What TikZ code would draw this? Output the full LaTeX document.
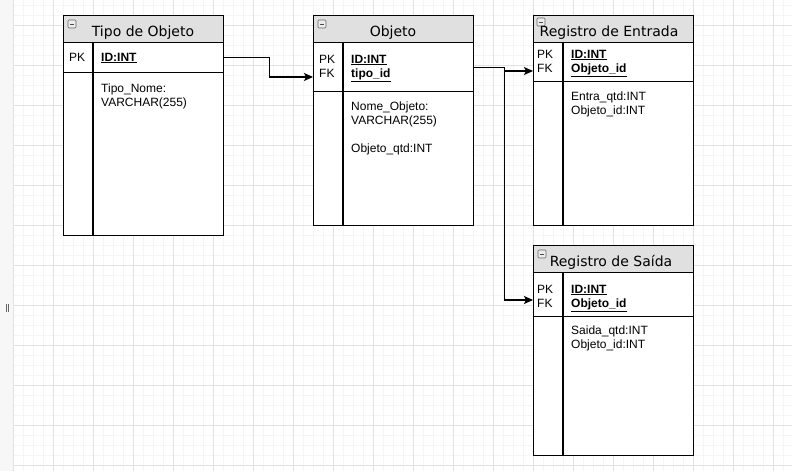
\documentclass[tikz,border=0pt]{standalone}
\usepackage{fontspec}
\setmainfont{Liberation Sans}
\newfontfamily\hdrfont{DejaVu Sans}
\usetikzlibrary{arrows.meta}
\definecolor{hdrgray}{HTML}{E0E0E0}
\definecolor{majorgrid}{HTML}{E2E2E2}
\definecolor{minorgrid}{HTML}{F5F5F5}
\definecolor{stripgray}{HTML}{F7F7F7}
\tikzset{
  box/.style={draw=black, line width=1.1pt, fill=white, minimum width=160pt, inner sep=0pt, anchor=north west},
  hdr/.style={box, fill=hdrgray, minimum height=27pt},
  title/.style={anchor=base, inner sep=0pt, font=\hdrfont\fontsize{14}{16}\selectfont},
  txt/.style={anchor=base west, inner sep=0pt, font=\fontsize{12}{14}\selectfont},
  keytxt/.style={txt, font=\fontsize{12}{14}\selectfont\bfseries},
  divider/.style={line width=1.1pt},
  minusicon/.style={draw=gray!80!black, fill=gray!15, rounded corners=1pt, line width=0.6pt, minimum size=8pt, inner sep=0pt,
    path picture={\draw[line width=0.8pt, black!70] ([xshift=-2pt]path picture bounding box.center) -- ([xshift=2pt]path picture bounding box.center);}},
  conn/.style={line width=1.1pt, -{Stealth[length=9pt,width=8pt,inset=2pt]}},
  minorline/.style={minorgrid, line width=0.6pt},
  majorline/.style={majorgrid, line width=0.8pt}
}
\begin{document}
\begin{tikzpicture}[x=1pt,y=-1pt]
\useasboundingbox (0,0) rectangle (792,471);
% background grid
\fill[white] (0,0) rectangle (792,471);
\foreach \x in {13,23,...,792} \draw[minorline] (\x,0) -- (\x,471);
\foreach \y in {5,15,...,471} \draw[minorline] (13,\y) -- (792,\y);
\foreach \x in {13,53,...,792} \draw[majorline] (\x,0) -- (\x,471);
\foreach \y in {25,65,...,471} \draw[majorline] (13,\y) -- (792,\y);
% left strip
\fill[stripgray] (0,0) rectangle (12.5,471);
\draw[majorline] (13,0) -- (13,471);
\draw[gray!80!black, line width=0.8pt] (6,304) -- (6,312);
\draw[gray!80!black, line width=0.8pt] (8.8,304) -- (8.8,312);

% ---- Table 1: Tipo de Objeto
\node[hdr] (t1h) at (63,15) {};
\node[box, minimum height=30pt] (t1k) at (63,42) {};
\node[box, minimum height=163pt] (t1b) at (63,72) {};
\draw[divider] ([xshift=30pt]t1k.north west) -- ([xshift=30pt]t1b.south west);
\node[minusicon] (t1i) at (72,24) {};
\node[title] (t1t) at (143,36) {Tipo de Objeto};
\node[txt] (t1pk) at (69,61) {PK};
\node[keytxt] (t1id) at (101,61) {\underline{ID:INT}};
\node[txt] (t1f1) at (101,92) {Tipo\_Nome:};
\node[txt] (t1f2) at (101,106) {VARCHAR(255)};

% ---- Table 2: Objeto
\node[hdr] (t2h) at (313,15) {};
\node[box, minimum height=49pt] (t2k) at (313,42) {};
\node[box, minimum height=134pt] (t2b) at (313,91) {};
\draw[divider] ([xshift=30pt]t2k.north west) -- ([xshift=30pt]t2b.south west);
\node[minusicon] (t2i) at (322,24) {};
\node[title] (t2t) at (393,36) {Objeto};
\node[txt] (t2pk) at (319,63) {PK};
\node[txt] (t2fk) at (319,77) {FK};
\node[keytxt] (t2id) at (351,63) {\underline{ID:INT}};
\node[keytxt] (t2tid) at (351,77) {\underline{tipo\_id}};
\node[txt] (t2f1) at (351,110) {Nome\_Objeto:};
\node[txt] (t2f2) at (351,124) {VARCHAR(255)};
\node[txt] (t2f3) at (351,152) {Objeto\_qtd:INT};

% ---- Table 3: Registro de Entrada
\node[hdr] (t3h) at (533,15) {};
\node[box, minimum height=39pt] (t3k) at (533,42) {};
\node[box, minimum height=144pt] (t3b) at (533,81) {};
\draw[divider] ([xshift=30pt]t3k.north west) -- ([xshift=30pt]t3b.south west);
\node[minusicon] (t3i) at (541,22) {};
\node[title] (t3t) at (609,36) {Registro de Entrada};
\node[txt] (t3pk) at (537,58) {PK};
\node[txt] (t3fk) at (537,72) {FK};
\node[keytxt] (t3id) at (571,58) {\underline{ID:INT}};
\node[keytxt] (t3oid) at (571,72) {\underline{Objeto\_id}};
\node[txt] (t3f1) at (571,100) {Entra\_qtd:INT};
\node[txt] (t3f2) at (571,114) {Objeto\_id:INT};

% ---- Table 4: Registro de Saida
\node[hdr] (t4h) at (533,245) {};
\node[box, minimum height=44pt] (t4k) at (533,272) {};
\node[box, minimum height=139pt] (t4b) at (533,316) {};
\draw[divider] ([xshift=30pt]t4k.north west) -- ([xshift=30pt]t4b.south west);
\node[minusicon] (t4i) at (542,254) {};
\node[title] (t4t) at (611,266) {Registro de Saída};
\node[txt] (t4pk) at (537,293) {PK};
\node[txt] (t4fk) at (537,307) {FK};
\node[keytxt] (t4id) at (571,293) {\underline{ID:INT}};
\node[keytxt] (t4oid) at (571,307) {\underline{Objeto\_id}};
\node[txt] (t4f1) at (571,334) {Saida\_qtd:INT};
\node[txt] (t4f2) at (571,348) {Objeto\_id:INT};

% ---- connectors
\coordinate (a1) at (313,77);
\coordinate (a2) at (533,71);
\coordinate (a3) at (533,300);
\draw[conn] (t1k.east) -- ++(45,0) |- (a1);
\draw[conn] (t2k.east) -- ++(30,0) |- (a2);
\draw[conn] (t2k.east) -- ++(30,0) |- (a3);
\end{tikzpicture}
\end{document}
